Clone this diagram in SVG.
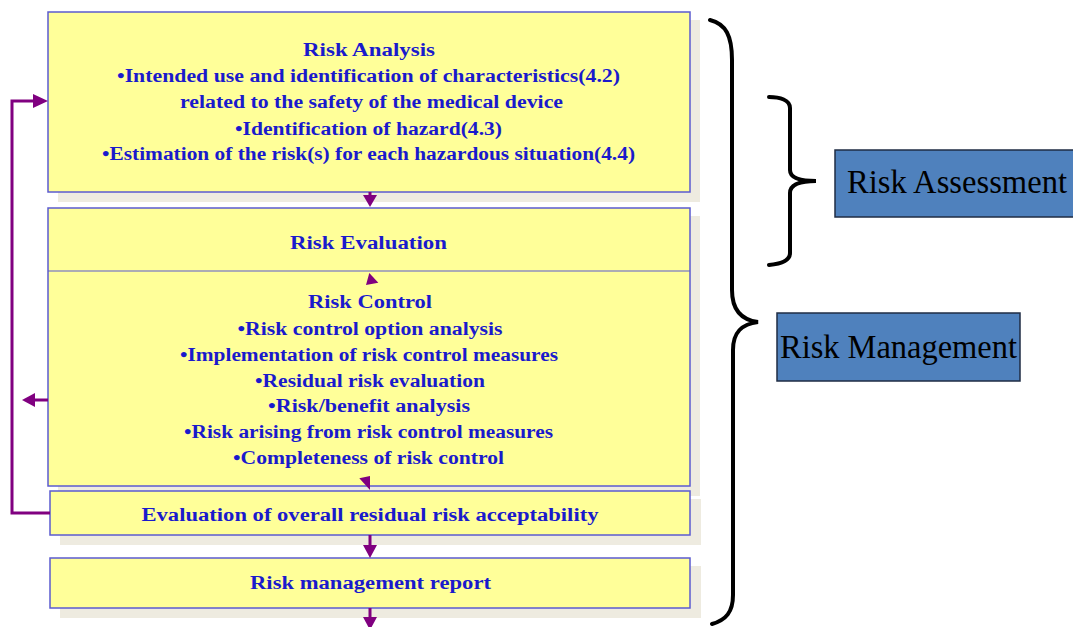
<svg xmlns="http://www.w3.org/2000/svg" width="1073" height="627" viewBox="0 0 1073 627">
  <style>
    .shadow { fill: #eeebe0; }
    .box { fill: #ffff99; stroke: #5b5bd0; stroke-width: 1.5; }
    .txt { font-family: "Liberation Serif", "Times New Roman", serif; font-weight: bold; font-size: 18.5px; fill: #1a1acc; text-anchor: middle; }
    .tag { fill: #4f81bd; stroke: #1f2d44; stroke-width: 1.5; }
    .tagtxt { font-family: "Liberation Serif", "Times New Roman", serif; font-size: 33px; fill: #000; }
    .flow { stroke: #800080; stroke-width: 3; fill: none; }
    .head { fill: #800080; }
    .brace { stroke: #000; stroke-width: 4; fill: none; stroke-linecap: round; }
  </style>

  <!-- Risk Analysis -->
  <g id="risk-analysis">
    <rect class="shadow" x="58" y="20" width="642" height="182"/>
    <rect class="box" x="48" y="12" width="642" height="180"/>
    <text class="txt" x="369" y="56" textLength="132" lengthAdjust="spacingAndGlyphs">Risk Analysis</text>
    <text class="txt" x="368.5" y="82" textLength="503" lengthAdjust="spacingAndGlyphs">•Intended  use and  identification of characteristics(4.2)</text>
    <text class="txt" x="371.5" y="108" textLength="383" lengthAdjust="spacingAndGlyphs">related to the safety  of the medical device</text>
    <text class="txt" x="368.5" y="135" textLength="267" lengthAdjust="spacingAndGlyphs">•Identification of hazard(4.3)</text>
    <text class="txt" x="368.5" y="160" textLength="533" lengthAdjust="spacingAndGlyphs">•Estimation of the risk(s) for each hazardous situation(4.4)</text>
  </g>

  <!-- Risk Evaluation / Risk Control -->
  <g id="risk-evaluation-control">
    <rect class="shadow" x="58" y="216" width="642" height="280"/>
    <rect class="box" x="48" y="208" width="642" height="278"/>
    <line x1="48" y1="271" x2="690" y2="271" stroke="#5b5bd0" stroke-width="1.2"/>
    <text class="txt" x="368.5" y="249" textLength="157" lengthAdjust="spacingAndGlyphs">Risk Evaluation</text>
    <text class="txt" x="370" y="308" textLength="124" lengthAdjust="spacingAndGlyphs">Risk Control</text>
    <text class="txt" x="370" y="335" textLength="265" lengthAdjust="spacingAndGlyphs">•Risk control option analysis</text>
    <text class="txt" x="369" y="361" textLength="378" lengthAdjust="spacingAndGlyphs">•Implementation of risk control measures</text>
    <text class="txt" x="370" y="387" textLength="230" lengthAdjust="spacingAndGlyphs">•Residual risk evaluation</text>
    <text class="txt" x="369" y="412" textLength="202" lengthAdjust="spacingAndGlyphs">•Risk/benefit analysis</text>
    <text class="txt" x="368.5" y="438" textLength="369" lengthAdjust="spacingAndGlyphs">•Risk arising from risk control measures</text>
    <text class="txt" x="368.5" y="464" textLength="271" lengthAdjust="spacingAndGlyphs">•Completeness of risk control</text>
  </g>

  <!-- Overall residual risk -->
  <g id="overall-residual-risk">
    <rect class="shadow" x="60" y="499" width="641" height="46"/>
    <rect class="box" x="50" y="491" width="640" height="44"/>
    <text class="txt" x="370" y="521" textLength="457" lengthAdjust="spacingAndGlyphs">Evaluation of overall residual risk acceptability</text>
  </g>

  <!-- Report -->
  <g id="risk-management-report">
    <rect class="shadow" x="60" y="566" width="641" height="52"/>
    <rect class="box" x="50" y="558" width="640" height="50"/>
    <text class="txt" x="370.5" y="589" textLength="241" lengthAdjust="spacingAndGlyphs">Risk management report</text>
  </g>

  <!-- Labels -->
  <g id="risk-assessment">
    <rect class="tag" x="835" y="150" width="245" height="67"/>
    <text class="tagtxt" x="847" y="193" textLength="220" lengthAdjust="spacingAndGlyphs">Risk Assessment</text>
  </g>
  <g id="risk-management">
    <rect class="tag" x="777" y="313" width="243" height="68"/>
    <text class="tagtxt" x="780" y="358" textLength="237" lengthAdjust="spacingAndGlyphs">Risk Management</text>
  </g>

  <!-- Braces -->
  <g id="braces">
    <path class="brace" d="M710,20 C726,24 732,36 732,60 L732,290 C732,310 742,320 758,322 C742,324 733,332 733,350 L733,595 C733,612 726,620 712,624"/>
    <path class="brace" d="M769,97 C780,97 790,100 790,108 L790,170 C790,178 800,181 816,181 C800,181 790,185 790,193 L790,253 C790,261 780,264 769,265"/>
  </g>

  <!-- Connectors -->
  <g id="connectors">
    <!-- analysis to evaluation -->
    <line class="flow" x1="370" y1="192" x2="370" y2="197"/>
    <polygon class="head" points="363,195 377,195 370,207"/>
    <!-- evaluation to control -->
    <polygon class="head" points="369.3,273 366,285 378.3,282.7"/>
    <!-- control to overall -->
    <polygon class="head" points="359.3,478.3 370,476 370,490"/>
    <!-- overall to report -->
    <line class="flow" x1="370" y1="535" x2="370" y2="548"/>
    <polygon class="head" points="363,545 377,545 370,558"/>
    <!-- report onward -->
    <line class="flow" x1="370" y1="608" x2="370" y2="620"/>
    <polygon class="head" points="363,617 377,617 370,630"/>
    <!-- feedback loop to analysis -->
    <polyline class="flow" stroke-width="4" points="50,513 12,513 12,101 36,101"/>
    <polygon class="head" points="33,94 48,101 33,108"/>
    <!-- control exit to the left -->
    <line class="flow" x1="48" y1="400" x2="30" y2="400"/>
    <polygon class="head" points="22,400 35,393 35,407"/>
  </g>
</svg>
